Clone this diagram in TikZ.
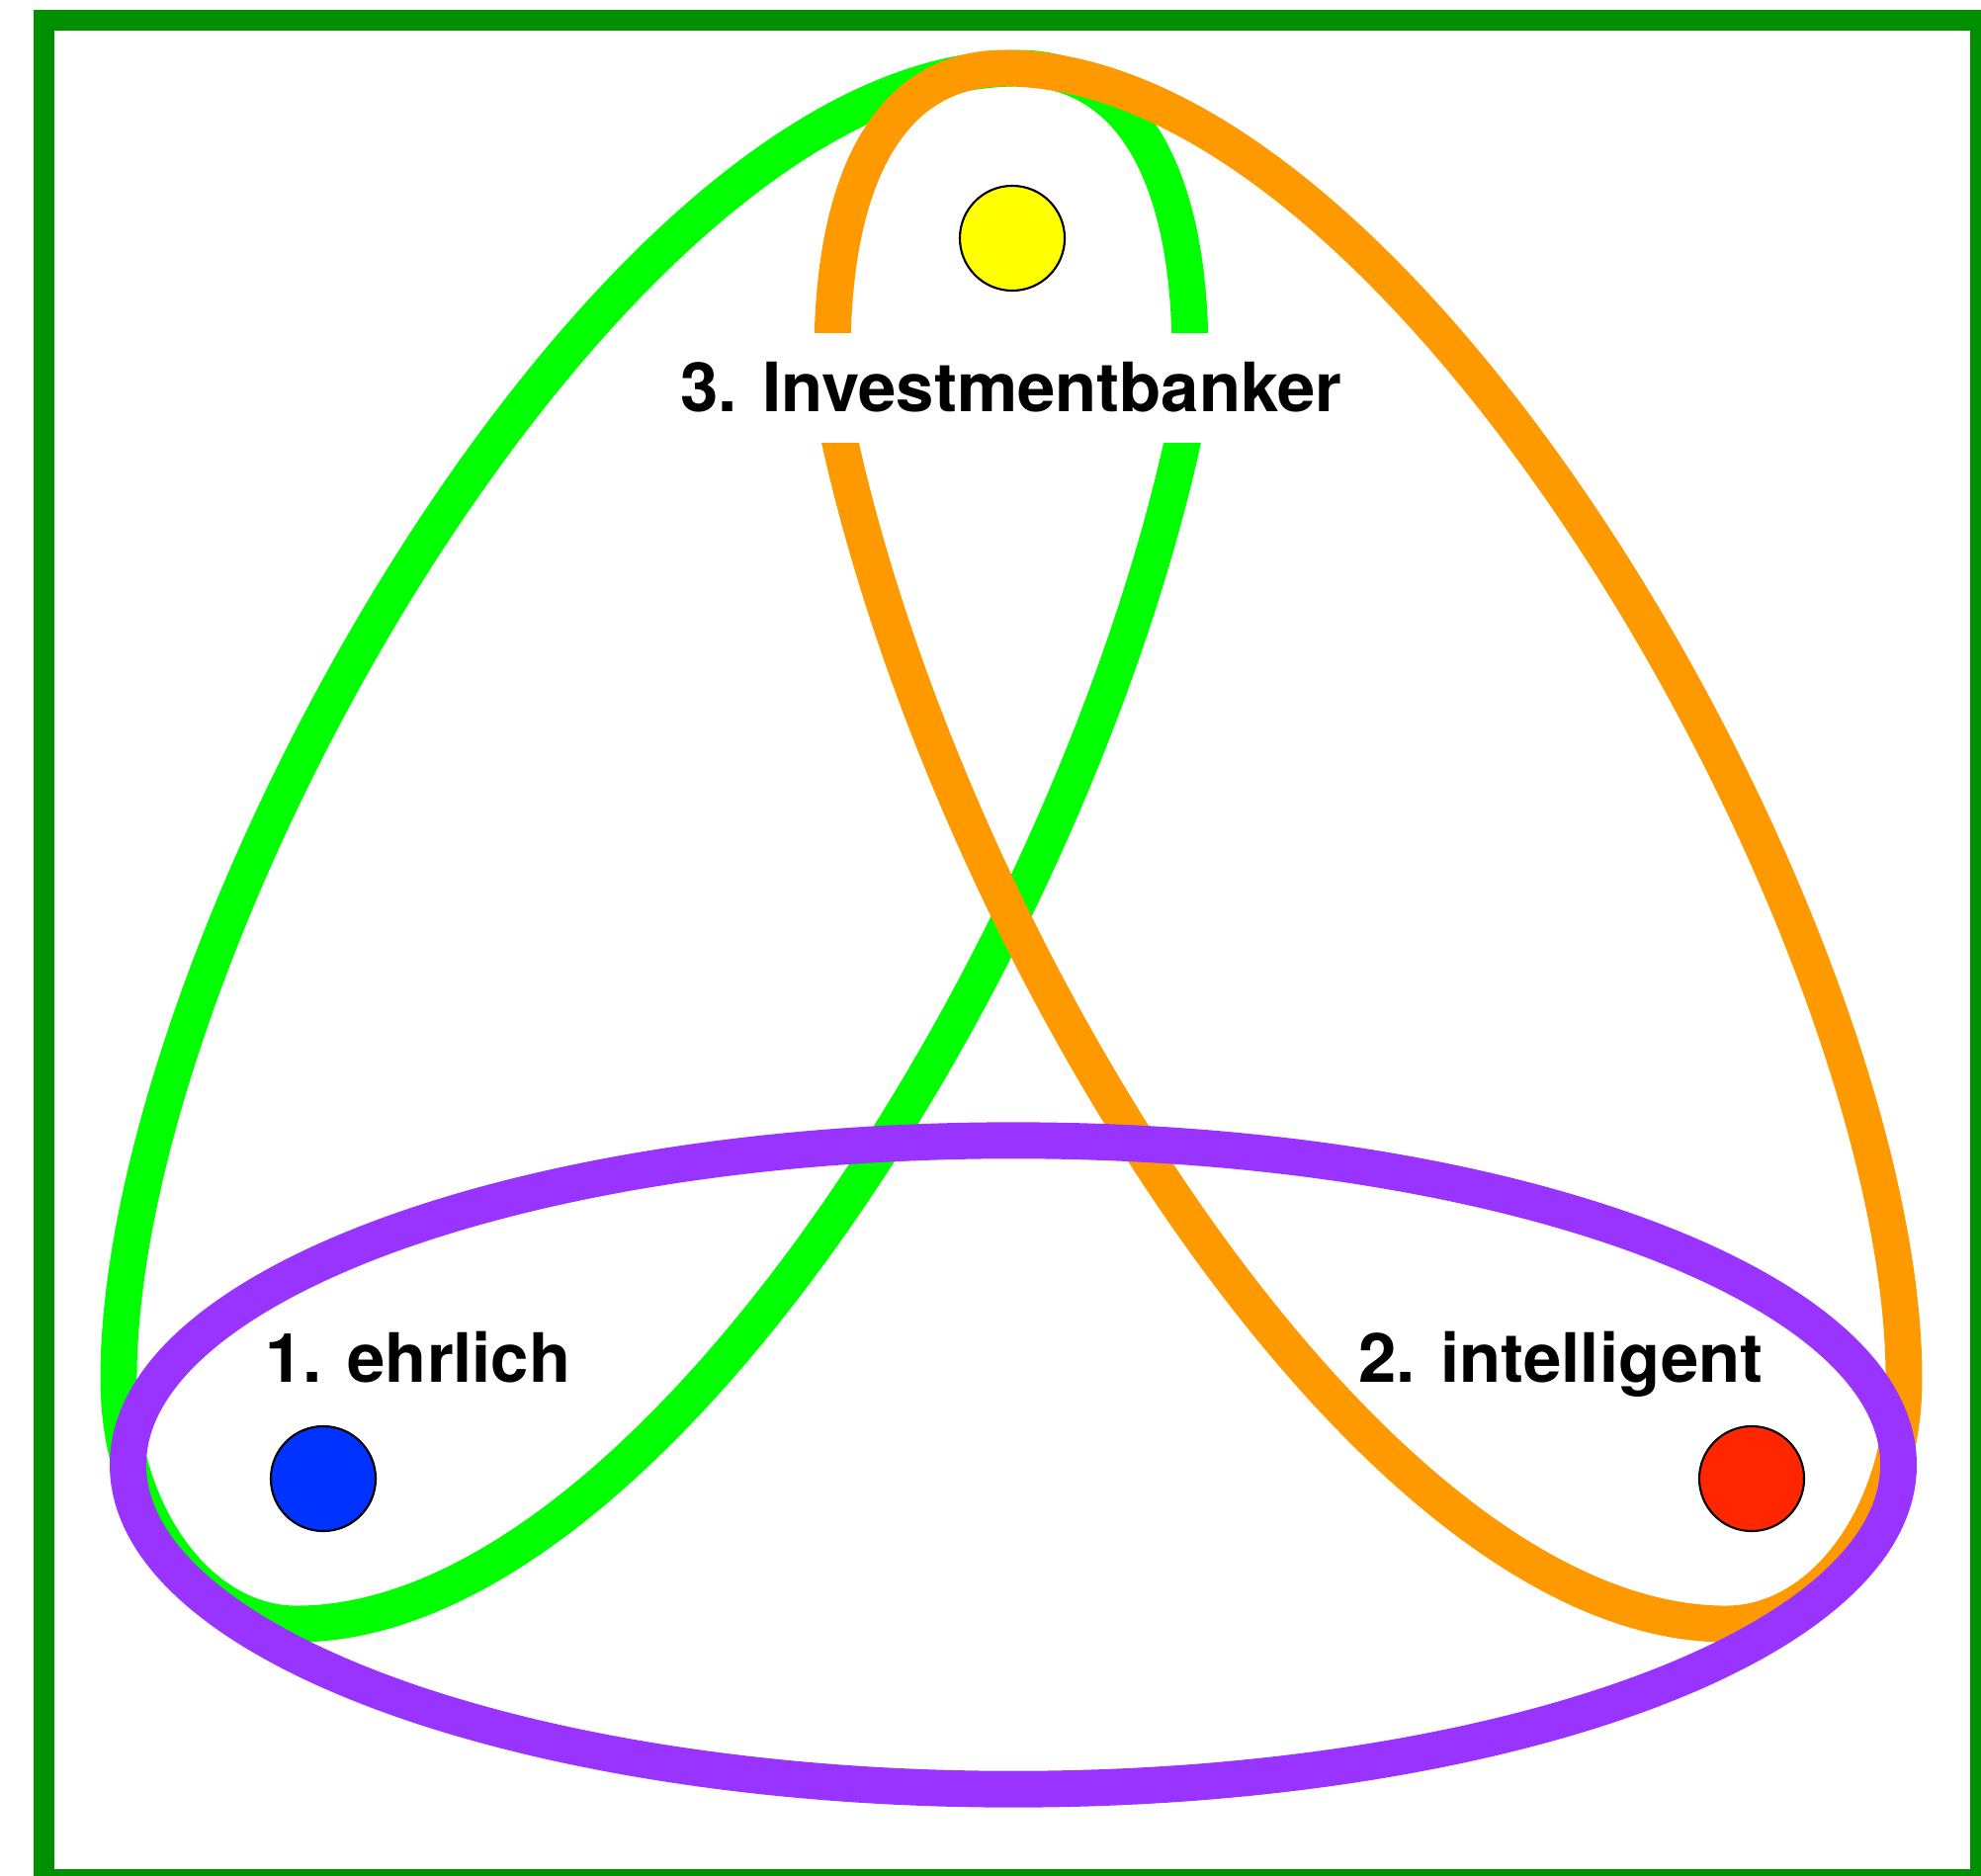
\documentclass[tikz,border=0pt]{standalone}
\usepackage{fontspec}
\setmainfont{TeX Gyre Heros}
\usepackage{xcolor}
\usepackage{tikz}

\definecolor{rahmen}{HTML}{008F00}
\definecolor{gruen}{HTML}{00FF00}
\definecolor{orangeton}{HTML}{FF9900}
\definecolor{lila}{HTML}{9933FF}
\definecolor{gelb}{HTML}{FFFF00}
\definecolor{blau}{HTML}{0033FF}
\definecolor{rot}{HTML}{FF2600}

% Schleife (Orange ist das Spiegelbild)
\newcommand{\schleifenpfad}{(1204,360)
  .. controls (1204,170) and (1140,69) .. (1030,69)
  .. controls (617,69) and (120,950) .. (120,1395)
  .. controls (120,1531) and (201,1643) .. (300,1643)
  .. controls (663,1643) and (1095,945) .. (1202,420)}

\begin{document}
\begin{tikzpicture}[x=0.01cm, y=-0.01cm,
  schleife/.style={line width=10.5pt},
  punkt/.style={circle, draw=black, line width=0.6pt, minimum size=1.06cm, inner sep=0pt},
  etikett/.style={font=\fontsize{19.6}{24}\selectfont\bfseries, anchor=base}]
  \useasboundingbox (0,0) rectangle (2004,1898);

  % Rahmen
  \draw[rahmen, line width=6pt] (44.5,20.5) rectangle (2003.5,1901.5);

  % Schleifen
  \draw[schleife, gruen] \schleifenpfad;
  \begin{scope}[shift={(2046,0)}, xscale=-1]
    \draw[schleife, orangeton] \schleifenpfad;
  \end{scope}

  % Beschriftung oben
  \node[etikett, fill=white, inner sep=0.3cm] (bank) at (1023,417) {3. Investmentbanker};

  % Ellipse
  \draw[schleife, lila] (1025,1482) ellipse [x radius=8.95cm, y radius=3.28cm];

  % Punkte
  \node[punkt, fill=gelb] (p3) at (1024,241) {};
  \node[punkt, fill=blau] (p1) at (327,1496) {};
  \node[punkt, fill=rot] (p2) at (1772,1496) {};

  \node[etikett] (ehrlich) at (423,1398) {1. ehrlich};
  \node[etikett] (intelligent) at (1579,1398) {2. intelligent};
\end{tikzpicture}
\end{document}
